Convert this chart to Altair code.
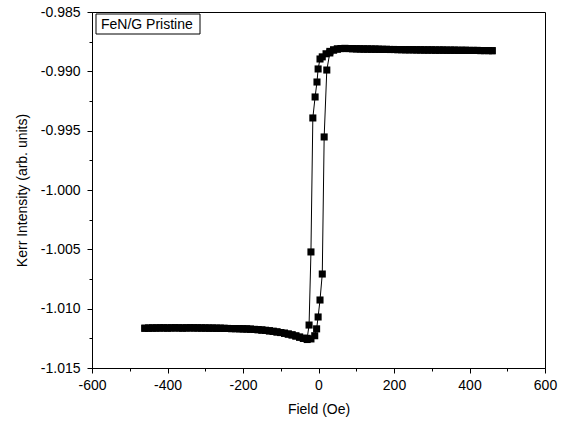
import altair as alt
import pandas as pd

# Shared flat parts of the loop (Oe, arb. units)
lower_field = [-460, -450, -440, -430, -420, -410, -400, -390, -380, -370, -360, -350, -340, -330,
               -320, -310, -300, -290, -280, -270, -260, -250, -240, -230, -220, -210, -200, -190,
               -180, -170, -160, -150, -140, -130, -120, -110, -100, -90, -80, -70, -60, -50, -40]
lower_kerr = [-1.01165, -1.01164, -1.01163, -1.01163, -1.01162, -1.01162, -1.01163, -1.01162, -1.01161,
              -1.01162, -1.01163, -1.01162, -1.01161, -1.01162, -1.01162, -1.01163, -1.01163, -1.01164,
              -1.01164, -1.01165, -1.01165, -1.01166, -1.01167, -1.01168, -1.01168, -1.01169, -1.01170,
              -1.01171, -1.01173, -1.01175, -1.01177, -1.01180, -1.01183, -1.01187, -1.01191, -1.01196,
              -1.01201, -1.01207, -1.01214, -1.01221, -1.01230, -1.01240, -1.01250]

upper_field = [40, 50, 60, 70, 80, 90, 100, 110, 120, 130, 140, 150, 160, 170, 180, 190, 200, 210,
               220, 230, 240, 250, 260, 270, 280, 290, 300, 310, 320, 330, 340, 350, 360, 370, 380,
               390, 400, 410, 420, 430, 440, 450, 460]
upper_kerr = [-0.98820, -0.98812, -0.98808, -0.98807, -0.98808, -0.98809, -0.98810, -0.98811, -0.98812,
              -0.98812, -0.98813, -0.98813, -0.98814, -0.98815, -0.98815, -0.98816, -0.98816, -0.98817,
              -0.98817, -0.98818, -0.98818, -0.98818, -0.98819, -0.98819, -0.98820, -0.98820, -0.98820,
              -0.98821, -0.98821, -0.98821, -0.98822, -0.98822, -0.98822, -0.98823, -0.98823, -0.98823,
              -0.98824, -0.98824, -0.98824, -0.98825, -0.98825, -0.98825, -0.98826]

# Switching parts
asc_field = [-30, -20, -10, -5, -1, 4, 10, 15, 22, 30]
asc_kerr = [-1.01260, -1.01255, -1.01228, -1.01170, -1.01070, -1.00927, -1.00708, -0.99553, -0.98989, -0.98845]
desc_field = [30, 20, 10, 4, -1, -4, -9, -15, -20, -25, -30]
desc_kerr = [-0.98832, -0.98852, -0.98878, -0.98896, -0.98980, -0.99090, -0.99216, -0.99393, -1.00522,
             -1.01138, -1.01250]

x_ticks = [-600, -500, -400, -300, -200, -100, 0, 100, 200, 300, 400, 500, 600]
y_ticks = [-1.015, -1.0125, -1.010, -1.0075, -1.005, -1.0025, -1.000, -0.9975, -0.995, -0.9925,
           -0.990, -0.9875, -0.985]
legend_label = "FeN/G Pristine"

asc_f = lower_field + asc_field + upper_field
asc_k = lower_kerr + asc_kerr + upper_kerr
desc_f = upper_field[::-1] + desc_field + lower_field[::-1]
desc_k = upper_kerr[::-1] + desc_kerr + lower_kerr[::-1]

df = pd.concat([
    pd.DataFrame({"field": asc_f, "kerr": asc_k, "branch": "up", "idx": range(len(asc_f))}),
    pd.DataFrame({"field": desc_f, "kerr": desc_k, "branch": "down", "idx": range(len(desc_f))}),
], ignore_index=True)

FONT = "Liberation Sans"

x_enc = alt.X("field:Q", scale=alt.Scale(domain=[-600, 600], nice=False, zero=False),
              axis=alt.Axis(values=x_ticks, title="Field (Oe)", grid=False,
                            labelExpr="datum.value % 200 != 0 ? '' : replace(format(datum.value, 'd'), '\u2212', '-')",
                            tickSize={"condition": {"test": "datum.value % 200 != 0", "value": 3}, "value": 5},
                            labelFlush=False, labelOverlap=False, labelPadding=5,
                            titleFontWeight="normal", titleX=226.5, titleY=41,
                            titleBaseline="middle", titleAlign="center"))
y_enc = alt.Y("kerr:Q", scale=alt.Scale(domain=[-1.015, -0.985], nice=False, zero=False),
              axis=alt.Axis(values=y_ticks, title="Kerr Intensity (arb. units)", grid=False,
                            labelExpr="round(datum.value*10000) % 50 != 0 ? '' : replace(format(datum.value, '.3f'), '\u2212', '-')",
                            tickSize={"condition": {"test": "round(datum.value*10000) % 50 != 0", "value": 3}, "value": 5},
                            labelFlush=False, labelOverlap=False, labelPadding=7,
                            titleFontWeight="normal", titleX=-70, titleY=178, titleAngle=-90,
                            titleBaseline="middle", titleAlign="center"))

base = alt.Chart(df)
lines = base.mark_line(color="black", strokeWidth=1).encode(
    x=x_enc, y=y_enc, detail="branch:N", order="idx:Q")
points = base.mark_square(color="black", size=50, opacity=1).encode(x=x_enc, y=y_enc)

leg_df = pd.DataFrame({"label": [legend_label]})
leg_box = alt.Chart(leg_df).mark_rect(fill="white", stroke="black", strokeWidth=1).encode(
    x=alt.value(4), x2=alt.value(108), y=alt.value(2), y2=alt.value(22))
leg_text = alt.Chart(leg_df).mark_text(align="left", baseline="middle", font=FONT, fontSize=14,
                                       color="black").encode(
    x=alt.value(9), y=alt.value(12.5), text="label:N")

chart = alt.layer(lines, points, leg_box, leg_text).properties(
    width=453, height=356,
    background="white",
    autosize=alt.AutoSizeParams(type="none"),
    padding={"left": 92, "top": 12, "right": 18, "bottom": 56},
).configure_view(stroke="black", strokeWidth=1).configure_axis(
    domainColor="black", tickColor="black", labelColor="black", titleColor="black",
    labelFont=FONT, titleFont=FONT, labelFontSize=14, titleFontSize=14,
)

chart.save("out.html", embed_options={"renderer": "svg", "actions": False})
